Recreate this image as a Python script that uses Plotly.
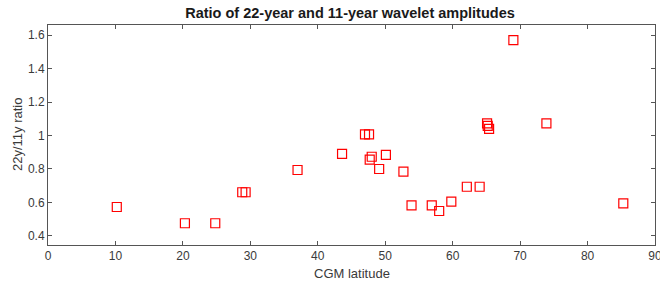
import plotly.graph_objects as go

cgm_lat = [10.2, 20.3, 24.8, 28.8, 29.3, 37.0, 43.6, 47.0, 47.6, 48.0, 47.7, 50.1, 49.1,
           52.7, 53.9, 56.9, 58.0, 59.8, 62.1, 64.0, 65.1, 65.2, 65.4, 69.0, 73.9, 85.3]
ratio = [0.573, 0.476, 0.476, 0.661, 0.661, 0.794, 0.890, 1.007, 1.007, 0.873, 0.856, 0.884, 0.800,
         0.784, 0.583, 0.583, 0.549, 0.605, 0.694, 0.694, 1.073, 1.057, 1.039, 1.570, 1.073, 0.595]

x_ticks = [0, 10, 20, 30, 40, 50, 60, 70, 80, 90]
y_ticks = [0.4, 0.6, 0.8, 1.0, 1.2, 1.4, 1.6]
y_tick_text = ["0.4", "0.6", "0.8", "1", "1.2", "1.4", "1.6"]

axis_color = "#262626"
label_color = "#3a3a3a"
font_family = "Liberation Sans, Arial, Helvetica, sans-serif"

fig = go.Figure()
fig.add_trace(go.Scatter(
    x=cgm_lat, y=ratio, mode="markers",
    marker=dict(symbol="square-open", size=9, color="#ff0000", line=dict(width=1.2, color="#ff1010")),
    showlegend=False,
))

axis_common = dict(
    showgrid=False, zeroline=False, showline=True, linecolor="#555555", linewidth=1,
    mirror="ticks", ticks="inside", ticklen=4, tickcolor="#555555", tickwidth=1,
    tickfont=dict(size=12, color=label_color, family=font_family),
    automargin=False, ticklabeloverflow="allow",
)

fig.update_layout(
    width=660, height=283,
    margin=dict(l=48, r=5, t=25, b=38),
    paper_bgcolor="white", plot_bgcolor="white",
    font=dict(family=font_family, color=axis_color),
    title=dict(text="<b>Ratio of 22-year and 11-year wavelet amplitudes</b>",
               x=350 / 660, xref="container", xanchor="center",
               y=(283 - 13) / 283, yref="container", yanchor="middle",
               font=dict(size=14.5, color="#1a1a1a", family=font_family)),
    xaxis=dict(range=[0, 90], tickvals=x_ticks, **axis_common),
    yaxis=dict(range=[0.346, 1.660], tickvals=y_ticks, ticktext=y_tick_text, **axis_common),
    annotations=[
        dict(text="CGM latitude", x=0.5, xref="paper", y=(245 - 273) / 220, yref="paper",
             xanchor="center", yanchor="middle", showarrow=False,
             font=dict(size=13, color=label_color, family=font_family)),
        dict(text="22y/11y ratio", x=(17 - 48) / 607, xref="paper", y=0.5, yref="paper",
             xanchor="center", yanchor="middle", textangle=-90, showarrow=False,
             font=dict(size=13, color=label_color, family=font_family)),
    ],
)

fig.write_html("out.html", config={"displayModeBar": False},
               post_script="document.body.style.margin='0px';")
